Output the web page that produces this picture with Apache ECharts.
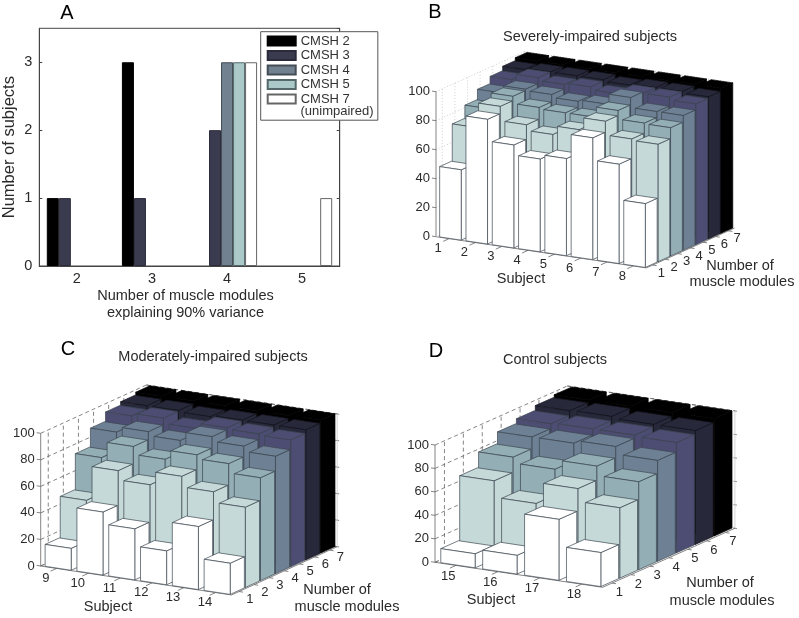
<!DOCTYPE html>
<html>
<head>
<meta charset="utf-8">
<style>html,body{margin:0;padding:0;background:#fff}#main{width:799px;height:618px}</style>
<script src="https://cdn.jsdelivr.net/npm/echarts@6/dist/echarts.min.js"></script>
</head>
<body>
<div id="main"></div>
<script>
// Panel A
const moduleCounts = ['2', '3', '4', '5'];
const cmsh2 = [1, 3, 0, 0];
const cmsh3 = [1, 1, 2, 0];
const cmsh4 = [0, 0, 3, 0];
const cmsh5 = [0, 0, 3, 0];
const cmsh7 = [0, 0, 3, 1];

// Panels B, C, D: one row per module count (1..7), one value per subject
const severeSubjects = ['1', '2', '3', '4', '5', '6', '7', '8'];
const severeValues = [
    [48.5, 86, 71, 64, 67, 84, 68.5, 44],
    [74, 91, 81, 77, 83, 91.5, 82, 81],
    [83, 94, 89, 88, 88, 95, 89, 88.5],
    [90, 95, 94, 92, 93, 100, 93, 93],
    [95, 99, 97, 98, 96, 99, 99, 97],
    [98, 99, 99, 99, 98, 99, 99, 98],
    [100, 100, 100, 100, 100, 100, 100, 100]
];
const moderateSubjects = ['9', '10', '11', '12', '13', '14'];
const moderateValues = [
    [16.5, 47.5, 38.5, 25.5, 47.5, 23.5],
    [47.5, 73.5, 66.5, 76.5, 68.5, 60.5],
    [74.5, 86.5, 80.5, 87.5, 84.5, 77.5],
    [88.5, 92.5, 89.5, 96, 92.5, 88.5],
    [95.5, 97.5, 93.5, 97.5, 96.5, 95.5],
    [98, 98, 97, 98, 98, 98],
    [100, 100, 100, 100, 100, 100]
];
const controlSubjects = ['15', '16', '17', '18'];
const controlValues = [
    [12, 16, 52, 29],
    [67, 53, 71, 60],
    [80, 75, 83, 75],
    [90, 90, 92.5, 86],
    [94, 95, 95, 94],
    [98, 98.5, 97, 97],
    [100, 100, 100, 100]
];
const moduleTicks = ['1', '2', '3', '4', '5', '6', '7'];
const percentTicks = [0, 20, 40, 60, 80, 100];

const moduleColors = ['#ffffff', '#c5d9d8', '#93aeb5', '#6d8094', '#4d4c72', '#27283a', '#000000'];
const textColor = '#2a2a2a';
const font = 'Liberation Sans';

const chart = echarts.init(document.getElementById('main'), null, { renderer: 'canvas' });

// Geometry of the oblique view of each 3D panel, in pixels
const panels = [
    {
        subjects: severeSubjects, values: severeValues, left: 436, zeroY: 236.7, zScale: 1.45,
        sx: 26.3, sy: 3.9, mx: 12.6, my: -5.7, wallDash: [1, 2], wallColor: '#c4c4c4', backTicks: false,
        sLabel: [-11, 10], mLabel: [8.7, 8]
    },
    {
        subjects: moderateSubjects, values: moderateValues, left: 40.7, zeroY: 566, zScale: 1.327,
        sx: 31.8, sy: 4.83, mx: 15.1, my: -6.9, wallDash: [4, 3], wallColor: '#666', backTicks: true,
        sLabel: [-10.7, 10], mLabel: [10.7, 7.7]
    },
    {
        subjects: controlSubjects, values: controlValues, left: 435, zeroY: 562.3, zScale: 1.173,
        sx: 41.9, sy: 6.25, mx: 18.9, my: -8.43, wallDash: [4, 3], wallColor: '#666', backTicks: true,
        sLabel: [-7.7, 10.7], mLabel: [7.3, 9.3]
    }
];

const Z_MIN = -30, Z_MAX = 160, X_SPAN = 340;

// subject position, module position, percent -> point in the panel's hidden axes
function project(p, s, m, z) {
    return [s * p.sx + m * p.mx, z + (s * p.sy + m * p.my) / -p.zScale];
}

function line(api, p, a, b, style) {
    const p1 = api.coord(project(p, a[0], a[1], a[2]));
    const p2 = api.coord(project(p, b[0], b[1], b[2]));
    return { type: 'line', shape: { x1: p1[0], y1: p1[1], x2: p2[0], y2: p2[1] }, style: style, silent: true };
}

function label(api, p, s, m, z, off, text) {
    const c = api.coord(project(p, s, m, z));
    return {
        type: 'text',
        style: { x: c[0] + off[0], y: c[1] + off[1], text: text, fill: textColor, font: '13px "' + font + '"', textAlign: 'center', textVerticalAlign: 'middle' }
    };
}

// walls, axis lines, ticks and the subject / module tick labels
function renderFrame(p) {
    return function (params, api) {
        const nS = p.subjects.length, nM = moduleTicks.length;
        const wall = { stroke: p.wallColor, lineWidth: 0.8, lineDash: p.wallDash, fill: null };
        const axis = { stroke: '#666', lineWidth: 0.8, fill: null };
        const faint = { stroke: '#ccc', lineWidth: 0.8, fill: null };
        const kids = [];
        percentTicks.forEach(function (z) {
            kids.push(line(api, p, [0, 0, z], [0, nM, z], wall));
            kids.push(line(api, p, [0, nM, z], [nS, nM, z], wall));
            kids.push(line(api, p, [0, 0, z], [-4 / p.sx, 0, z], axis));
            if (p.backTicks) kids.push(line(api, p, [nS, nM, z], [nS + 2 / p.sx, nM, z], axis));
        });
        moduleTicks.forEach(function (t, m) {
            kids.push(line(api, p, [0, m + 0.5, 0], [0, m + 0.5, 100], wall));
            kids.push(line(api, p, [nS, m + 0.5, 0], [nS + 4 / p.sx, m + 0.5, 0], axis));
            kids.push(label(api, p, nS, m + 0.5, 0, p.mLabel, t));
        });
        p.subjects.forEach(function (t, s) {
            kids.push(line(api, p, [s + 0.5, nM, 0], [s + 0.5, nM, 100], wall));
            kids.push(line(api, p, [s + 0.5, 0, 0], [s + 0.5, -6 / p.mx, 0], axis));
            kids.push(label(api, p, s + 0.5, 0, 0, p.sLabel, t));
        });
        kids.push(line(api, p, [0, 0, 0], [0, 0, 100], axis));
        kids.push(line(api, p, [0, 0, 0], [nS, 0, 0], axis));
        kids.push(line(api, p, [nS, 0, 0], [nS, nM, 0], axis));
        kids.push(line(api, p, [0, 0, 0], [0, nM, 0], wall));
        kids.push(line(api, p, [0, nM, 0], [nS, nM, 0], wall));
        kids.push(line(api, p, [0, nM, 100], [nS, nM, 100], wall));
        if (p.backTicks) kids.push(line(api, p, [nS, nM, 0], [nS, nM, 100], faint));
        return { type: 'group', children: kids, silent: true };
    };
}

// one 3D bar: front, right side and top faces
function renderBar(p) {
    return function (params, api) {
        const s = api.value(0), m = api.value(1), v = api.value(2);
        const s0 = s + 0.12, s1 = s + 0.94, m0 = m + 0.04, m1 = m + 0.98;
        const pt = function (a, b, z) { return api.coord(project(p, a, b, z)); };
        const style = {
            fill: moduleColors[m],
            stroke: m === 6 ? '#000' : (m === 5 ? '#15151f' : '#3c4650'),
            lineWidth: 0.7,
            lineJoin: 'round'
        };
        const face = function (pts) { return { type: 'polygon', shape: { points: pts }, style: style }; };
        return {
            type: 'group',
            children: [
                face([pt(s1, m0, 0), pt(s1, m1, 0), pt(s1, m1, v), pt(s1, m0, v)]),
                face([pt(s0, m0, v), pt(s1, m0, v), pt(s1, m1, v), pt(s0, m1, v)]),
                face([pt(s0, m0, 0), pt(s1, m0, 0), pt(s1, m0, v), pt(s0, m0, v)])
            ]
        };
    };
}

// back rows first, left to right, so nearer bars paint over farther ones
function barData(values) {
    const out = [];
    for (let m = values.length - 1; m >= 0; m--) {
        values[m].forEach(function (v, s) { out.push([s, m, v]); });
    }
    return out;
}

const grid = [{ left: 39.3, top: 28.3, width: 300.4, height: 237.7, show: true, borderColor: '#444', borderWidth: 1, backgroundColor: '#fff' }];
const xAxis = [
    {
        type: 'category', gridIndex: 0, data: moduleCounts,
        axisTick: { alignWithLabel: true, inside: true, length: 3, lineStyle: { color: '#444' } },
        axisLine: { lineStyle: { color: '#444' } },
        axisLabel: { color: textColor, fontSize: 14.5, fontFamily: font, margin: 5 },
        name: 'Number of muscle modules\nexplaining 90% variance', nameLocation: 'middle', nameGap: 19,
        nameTextStyle: { color: textColor, fontSize: 14.5, fontFamily: font, lineHeight: 17.5, padding: [0, 8, 0, 0] }
    },
    {
        type: 'category', gridIndex: 0, data: moduleCounts, position: 'top',
        axisTick: { alignWithLabel: true, inside: true, length: 3, lineStyle: { color: '#444' } },
        axisLine: { lineStyle: { color: '#444' } }, axisLabel: { show: false }
    }
];
const yAxis = [
    {
        type: 'value', gridIndex: 0, min: 0, max: 3.5, interval: 1, splitLine: { show: false },
        axisLine: { show: true, lineStyle: { color: '#444' } },
        axisTick: { show: true, inside: true, length: 3, lineStyle: { color: '#444' } },
        axisLabel: { color: textColor, fontSize: 14.5, fontFamily: font, margin: 7, showMaxLabel: false },
        name: 'Number of subjects', nameLocation: 'middle', nameGap: 21,
        nameTextStyle: { color: textColor, fontSize: 16.5, fontFamily: font }
    },
    {
        type: 'value', gridIndex: 0, min: 0, max: 3.5, interval: 1, position: 'right', splitLine: { show: false },
        axisLine: { show: true, lineStyle: { color: '#444' } },
        axisTick: { show: true, inside: true, length: 3, lineStyle: { color: '#444' } },
        axisLabel: { show: false }
    }
];

const barStyle = function (name, color, data, border) {
    return {
        name: name, type: 'bar', xAxisIndex: 0, yAxisIndex: 0,
        data: data.map(function (v) { return v === 0 ? null : v; }),   // no outline for empty bars
        barGap: 0, barCategoryGap: '20%',
        itemStyle: { color: color, borderColor: border, borderWidth: 1 },
        emphasis: { disabled: true }
    };
};
const series = [
    barStyle('CMSH 2', '#000000', cmsh2, '#000'),
    barStyle('CMSH 3', '#3b3b50', cmsh3, '#2a2a3a'),
    barStyle('CMSH 4', '#71818f', cmsh4, '#444c55'),
    barStyle('CMSH 5', '#abc9c8', cmsh5, '#55696a'),
    barStyle('CMSH 7', '#ffffff', cmsh7, '#666')
];

panels.forEach(function (p, i) {
    const g = i + 1;      // grid of this panel
    const a = i + 2;      // its axes, after panel A's two pairs
    grid.push({
        left: p.left, width: X_SPAN,
        top: p.zeroY - Z_MAX * p.zScale,
        height: (Z_MAX - Z_MIN) * p.zScale
    });
    xAxis.push({ type: 'value', gridIndex: g, min: 0, max: X_SPAN, show: false });
    yAxis.push({
        type: 'value', gridIndex: g, min: Z_MIN, max: Z_MAX, interval: 10,
        axisLine: { show: false }, axisTick: { show: false }, splitLine: { show: false },
        axisLabel: {
            color: textColor, fontSize: 13, fontFamily: font, margin: 6,
            formatter: function (v) { return percentTicks.indexOf(v) >= 0 ? String(v) : ''; }
        }
    });
    series.push({
        type: 'custom', xAxisIndex: a, yAxisIndex: a, data: [0], silent: true, clip: false,
        renderItem: renderFrame(p), z: 1
    });
    series.push({
        type: 'custom', xAxisIndex: a, yAxisIndex: a, data: barData(p.values), silent: true, clip: false,
        encode: { x: 0, y: 2 }, renderItem: renderBar(p), z: 2
    });
});

function heading(text, cx, cy, size, color) {
    return {
        type: 'text', z: 20, x: cx, y: cy,
        style: { text: text, fill: color || textColor, font: (size || 14.5) + 'px "' + font + '"', textAlign: 'center', textVerticalAlign: 'middle' }
    };
}

chart.setOption({
    animation: false,
    backgroundColor: '#fff',
    tooltip: { show: false },
    grid: grid,
    xAxis: xAxis,
    yAxis: yAxis,
    series: series,
    legend: {
        data: ['CMSH 2', 'CMSH 3', 'CMSH 4', 'CMSH 5', 'CMSH 7'],
        orient: 'vertical', left: 260.7, top: 31.7, selectedMode: false, icon: 'rect',
        itemWidth: 28, itemHeight: 9, itemGap: 0,
        padding: [2, 28, 14, 6],
        backgroundColor: '#fff', borderColor: '#555', borderWidth: 1,
        textStyle: { color: '#333', fontSize: 13, fontFamily: font, lineHeight: 14.5, padding: [0, 0, 0, 0] },
        z: 10
    },
    graphic: [
        heading('(unimpaired)', 337, 111, 13, '#333'),
        heading('A', 67, 13, 20, '#000'),
        heading('B', 435, 12, 20, '#000'),
        heading('C', 68, 349, 20, '#000'),
        heading('D', 436, 351, 20, '#000'),
        heading('Severely-impaired subjects', 590, 37),
        heading('Subject', 521, 279),
        heading('Number of', 740, 266),
        heading('muscle modules', 742, 282),
        heading('Moderately-impaired subjects', 213, 357),
        heading('Subject', 108, 607),
        heading('Number of', 337, 590),
        heading('muscle modules', 347, 607),
        heading('Control subjects', 555, 360),
        heading('Subject', 491, 600),
        heading('Number of', 720, 583),
        heading('muscle modules', 722, 601)
    ]
});

window.addEventListener('resize', function () { chart.resize(); });
</script>
</body>
</html>
